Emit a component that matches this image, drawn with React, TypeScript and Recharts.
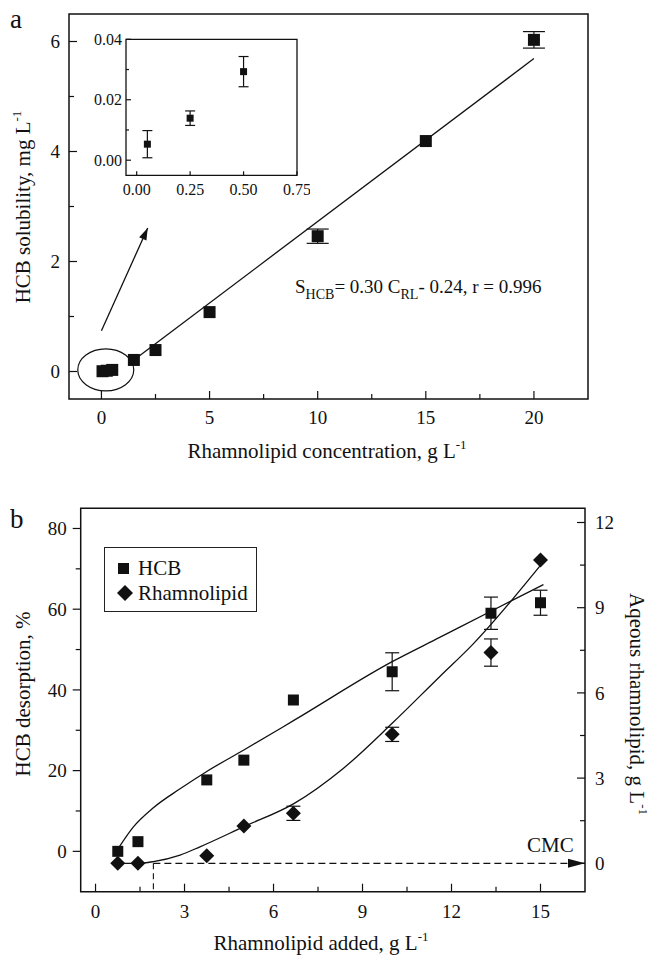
import React from 'react';
import {
  ComposedChart,
  Scatter,
  Line,
  XAxis,
  YAxis,
  ErrorBar,
  ReferenceArea,
  ReferenceDot,
  Legend,
} from 'recharts';

const FONT = '"Liberation Serif", "Times New Roman", serif';
const INK = '#111';

// panel a: HCB solubility vs rhamnolipid concentration
const concX = [0.05, 0.25, 0.5, 1.5, 2.5, 5, 10, 15, 20];
const solubility = [0.005, 0.014, 0.029, 0.21, 0.39, 1.08, 2.46, 4.19, 6.03];
const solubilityErr = [0, 0, 0, 0, 0, 0, 0.13, 0, 0.15];
const fitX = [1.5, 20];
const fitY = [0.21, 5.69];
const zoomArrowX = [0, 2.14];
const zoomArrowY = [0.74, 2.61];

// inset (low concentrations)
const insetX = [0.05, 0.25, 0.5];
const insetY = [0.0053, 0.0139, 0.0293];
const insetErr = [0.0045, 0.0024, 0.005];

// panel b: desorption vs rhamnolipid added
const addedX = [0.75, 1.43, 3.75, 5, 6.67, 10, 13.33, 15];
const hcbDesorption = [0, 2.4, 17.7, 22.6, 37.5, 44.5, 59.0, 61.6];
const hcbErr = [0, 0, 0, 0, 0, 4.7, 4.0, 3.1];
const aqueousRL = [0, 0, 0.27, 1.31, 1.76, 4.54, 7.42, 10.68];
const aqueousErr = [0, 0, 0, 0, 0.25, 0.25, 0.48, 0];
const hcbFitX = [0.8, 1.27, 1.95, 2.85, 3.75, 5, 6.7, 10, 11.6, 13.33, 15.1];
const hcbFitY = [1.1, 6.0, 10.8, 15.5, 19.8, 25.1, 32.5, 47.0, 53.0, 59.5, 66.1];
const rlFitX = [0.75, 1.43, 1.95, 2.85, 3.52, 5, 6.7, 8.35, 10, 11.6, 12.7, 15.1];
const rlFitY = [0, 0, 0.06, 0.29, 0.58, 1.29, 2.11, 3.34, 4.93, 6.57, 7.69, 10.62];
const cmcX = [1.95, 16.5];
const cmcY = [0, 0];
const cmcDropX = [1.95, 1.95];
const cmcDropY = [0, -1];

// ticks
const aXTicks = [0, 2.5, 5, 7.5, 10, 12.5, 15, 17.5, 20];
const aXLabels = [0, 5, 10, 15, 20];
const aYTicks = [0, 1, 2, 3, 4, 5, 6];
const aYLabels = [0, 2, 4, 6];
const insetXTicks = [0, 0.25, 0.5, 0.75];
const insetYTicks = [0, 0.01, 0.02, 0.03, 0.04];
const insetYLabels = [0, 0.02, 0.04];
const bXTicks = [0, 1.5, 3, 4.5, 6, 7.5, 9, 10.5, 12, 13.5, 15];
const bXLabels = [0, 3, 6, 9, 12, 15];
const bLeftTicks = [0, 10, 20, 30, 40, 50, 60, 70, 80];
const bLeftLabels = [0, 20, 40, 60, 80];
const bRightTicks = [0, 1.5, 3, 4.5, 6, 7.5, 9, 10.5, 12];
const bRightLabels = [0, 3, 6, 9, 12];

const zip = (xs: number[], ys: number[], es?: number[]) =>
  xs.map((x, i) => ({ x, y: ys[i], err: es ? es[i] : 0 }));

const solData = zip(concX, solubility, solubilityErr);
const fitData = zip(fitX, fitY);
const arrowData = zip(zoomArrowX, zoomArrowY);
const insetData = zip(insetX, insetY, insetErr);
const hcbData = zip(addedX, hcbDesorption, hcbErr);
const rlData = zip(addedX, aqueousRL, aqueousErr);
const hcbFit = zip(hcbFitX, hcbFitY);
const rlFit = zip(rlFitX, rlFitY);
const cmcLine = zip(cmcX, cmcY);
const cmcDrop = zip(cmcDropX, cmcDropY);

type TickOpts = { labels: number[]; major: number; minor: number; gap: number; fs: number; digits?: number };

const fmt = (v: number, d?: number) => (d ? v.toFixed(d) : String(v));

// bottom axis, ticks pointing into the plot
const xTick = (o: TickOpts) => (p: any) => {
  const { x, y, payload } = p;
  const isMajor = o.labels.includes(payload.value);
  return (
    <g>
      <line x1={x} x2={x} y1={y} y2={y - (isMajor ? o.major : o.minor)} stroke={INK} strokeWidth={1.2} />
      {isMajor && (
        <text x={x} y={y + o.gap} textAnchor="middle" fontFamily={FONT} fontSize={o.fs} fill={INK}>
          {fmt(payload.value, o.digits)}
        </text>
      )}
    </g>
  );
};

// side axis; dir = +1 draws toward the right of the axis line
const yTick = (o: TickOpts, side: 'left' | 'right', dir: number) => (p: any) => {
  const { x, y, payload } = p;
  const isMajor = o.labels.includes(payload.value);
  const len = isMajor ? o.major : o.minor;
  return (
    <g>
      <line x1={x} x2={x + dir * len} y1={y} y2={y} stroke={INK} strokeWidth={1.2} />
      {isMajor && (
        <text
          x={side === 'left' ? x - o.gap : x + o.gap}
          y={y}
          dy="0.35em"
          textAnchor={side === 'left' ? 'end' : 'start'}
          fontFamily={FONT}
          fontSize={o.fs}
          fill={INK}
        >
          {fmt(payload.value, o.digits)}
        </text>
      )}
    </g>
  );
};

const square = (s: number) => (p: any) =>
  <rect x={p.cx - s / 2} y={p.cy - s / 2} width={s} height={s} fill={INK} />;

const diamond = (r: number) => (p: any) =>
  <polygon points={`${p.cx},${p.cy - r} ${p.cx + r},${p.cy} ${p.cx},${p.cy + r} ${p.cx - r},${p.cy}`} fill={INK} />;

const arrowHead = (len: number, half: number, fallback: number) => (p: any) => {
  const { cx, cy, index, points } = p;
  if (index !== 1) return null;
  const ang = points && points[0] ? (Math.atan2(cy - points[0].y, cx - points[0].x) * 180) / Math.PI : fallback;
  return (
    <polygon
      key="head"
      points={`0,0 ${-len},${-half} ${-len},${half}`}
      transform={`translate(${cx},${cy}) rotate(${ang})`}
      fill={INK}
    />
  );
};

const renderLegend = (props: any) => {
  const items = (props.payload || []).filter((it: any) => it.type !== 'none');
  return (
    <div
      style={{
        position: 'relative',
        width: 153,
        height: 65,
        border: '1px solid #222',
        boxSizing: 'border-box',
        background: '#fff',
        fontFamily: FONT,
        fontSize: 21,
        color: INK,
      }}
    >
      {items.map((it: any, i: number) => (
        <div key={i} style={{ position: 'absolute', left: 8, top: 8 + i * 25, height: 24, display: 'flex', alignItems: 'center' }}>
          <svg width={24} height={20}>
            {it.type === 'diamond' ? (
              <polygon points="12,2 20,10 12,18 4,10" fill={INK} />
            ) : (
              <rect x={5} y={5} width={11} height={11} fill={INK} />
            )}
          </svg>
          <span style={{ marginLeft: 1, lineHeight: '24px' }}>{it.value}</span>
        </div>
      ))}
    </div>
  );
};

function PanelA() {
  return (
    <div style={{ position: 'absolute', left: 0, top: 0 }}>
      <ComposedChart width={651} height={470} margin={{ top: 14, right: 63, left: 0, bottom: 0 }}>
        <XAxis
          dataKey="x"
          type="number"
          domain={[-1.5, 22.5]}
          allowDataOverflow
          ticks={aXTicks}
          interval={0}
          height={71}
          axisLine={false}
          tickLine={false}
          tickSize={0}
          tickMargin={0}
          tick={xTick({ labels: aXLabels, major: 8, minor: 5, gap: 25, fs: 19 })}
        />
        <YAxis
          dataKey="y"
          type="number"
          domain={[-0.5, 6.5]}
          allowDataOverflow
          ticks={aYTicks}
          interval={0}
          width={69}
          axisLine={false}
          tickLine={false}
          tickSize={0}
          tickMargin={0}
          tick={yTick({ labels: aYLabels, major: 8, minor: 5, gap: 9, fs: 19 }, 'left', 1)}
        />
        <ReferenceArea x1={-1.5} x2={22.5} y1={-0.5} y2={6.5} fill="none" stroke={INK} strokeWidth={1.5} ifOverflow="visible" />
        <Line data={fitData} dataKey="y" type="linear" stroke={INK} strokeWidth={1.3} dot={false} legendType="none" isAnimationActive={false} />
        <Line
          data={arrowData}
          dataKey="y"
          type="linear"
          stroke={INK}
          strokeWidth={1.3}
          dot={arrowHead(12, 4, -65.5)}
          activeDot={false}
          legendType="none"
          isAnimationActive={false}
        />
        <ReferenceDot
          x={0.2}
          y={0.03}
          ifOverflow="visible"
          shape={(p: any) => <ellipse cx={p.cx} cy={p.cy} rx={28} ry={21} fill="none" stroke={INK} strokeWidth={1.2} />}
        />
        <Scatter data={solData} dataKey="y" shape={square(12)} legendType="none" isAnimationActive={false}>
          <ErrorBar dataKey="err" direction="y" width={11} stroke={INK} strokeWidth={1.2} />
        </Scatter>
      </ComposedChart>
    </div>
  );
}

function Inset() {
  return (
    <div style={{ position: 'absolute', left: 60, top: 30 }}>
      <ComposedChart width={250} height={180} margin={{ top: 9.3, right: 13, left: 0, bottom: 0 }}>
        <XAxis
          dataKey="x"
          type="number"
          domain={[-0.05, 0.75]}
          allowDataOverflow
          ticks={insetXTicks}
          interval={0}
          height={34.7}
          axisLine={false}
          tickLine={false}
          tickSize={0}
          tickMargin={0}
          tick={xTick({ labels: insetXTicks, major: 4, minor: 2, gap: 20, fs: 16, digits: 2 })}
        />
        <YAxis
          dataKey="y"
          type="number"
          domain={[-0.005, 0.04]}
          allowDataOverflow
          ticks={insetYTicks}
          interval={0}
          width={66}
          axisLine={false}
          tickLine={false}
          tickSize={0}
          tickMargin={0}
          tick={yTick({ labels: insetYLabels, major: 5, minor: 3, gap: 4, fs: 16, digits: 2 }, 'left', 1)}
        />
        <ReferenceArea x1={-0.05} x2={0.75} y1={-0.005} y2={0.04} fill="none" stroke={INK} strokeWidth={1.3} ifOverflow="visible" />
        <Scatter data={insetData} dataKey="y" shape={square(7)} legendType="none" isAnimationActive={false}>
          <ErrorBar dataKey="err" direction="y" width={5} stroke={INK} strokeWidth={1.2} />
        </Scatter>
      </ComposedChart>
    </div>
  );
}

function PanelB() {
  return (
    <div style={{ position: 'absolute', left: 0, top: 470 }}>
      <ComposedChart width={651} height={485} margin={{ top: 38.3, right: 0, left: 0, bottom: 0 }}>
        <XAxis
          dataKey="x"
          type="number"
          domain={[-0.5, 16.5]}
          allowDataOverflow
          ticks={bXTicks}
          interval={0}
          height={63.3}
          axisLine={false}
          tickLine={false}
          tickSize={0}
          tickMargin={0}
          tick={xTick({ labels: bXLabels, major: 8, minor: 5, gap: 26, fs: 19 })}
        />
        <YAxis
          yAxisId="left"
          dataKey="y"
          type="number"
          domain={[-10, 85]}
          allowDataOverflow
          ticks={bLeftTicks}
          interval={0}
          width={80.7}
          axisLine={false}
          tickLine={false}
          tickSize={0}
          tickMargin={0}
          tick={yTick({ labels: bLeftLabels, major: 8, minor: 5, gap: 14, fs: 19 }, 'left', -1)}
        />
        <YAxis
          yAxisId="right"
          orientation="right"
          dataKey="y"
          type="number"
          domain={[-1, 12.5]}
          allowDataOverflow
          ticks={bRightTicks}
          interval={0}
          width={66}
          axisLine={false}
          tickLine={false}
          tickSize={0}
          tickMargin={0}
          tick={yTick({ labels: bRightLabels, major: 8, minor: 5, gap: 10, fs: 19 }, 'right', -1)}
        />
        <ReferenceArea yAxisId="left" x1={-0.5} x2={16.5} y1={-10} y2={85} fill="none" stroke={INK} strokeWidth={1.5} ifOverflow="visible" />
        <Line yAxisId="right" data={cmcLine} dataKey="y" type="linear" stroke={INK} strokeWidth={1.3} strokeDasharray="7 4"
          dot={arrowHead(17, 4.5, 0)} activeDot={false} legendType="none" isAnimationActive={false} />
        <Line yAxisId="right" data={cmcDrop} dataKey="y" type="linear" stroke={INK} strokeWidth={1.1} strokeDasharray="6 4"
          dot={false} legendType="none" isAnimationActive={false} />
        <Line yAxisId="left" data={hcbFit} dataKey="y" type="monotone" stroke={INK} strokeWidth={1.3} dot={false} legendType="none" isAnimationActive={false} />
        <Line yAxisId="right" data={rlFit} dataKey="y" type="monotone" stroke={INK} strokeWidth={1.3} dot={false} legendType="none" isAnimationActive={false} />
        <Scatter yAxisId="left" name="HCB" data={hcbData} dataKey="y" shape={square(11)} legendType="square" isAnimationActive={false}>
          <ErrorBar dataKey="err" direction="y" width={7} stroke={INK} strokeWidth={1.2} />
        </Scatter>
        <Scatter yAxisId="right" name="Rhamnolipid" data={rlData} dataKey="y" shape={diamond(7.5)} legendType="diamond" isAnimationActive={false}>
          <ErrorBar dataKey="err" direction="y" width={7} stroke={INK} strokeWidth={1.2} />
        </Scatter>
        <Legend
          layout="vertical"
          align="center"
          verticalAlign="middle"
          content={renderLegend}
          wrapperStyle={{ left: 104, top: 77, width: 153, height: 65 }}
        />
      </ComposedChart>
    </div>
  );
}

function Annotations() {
  const t = { fontFamily: FONT, fill: INK };
  return (
    <svg width={651} height={955} style={{ position: 'absolute', left: 0, top: 0, pointerEvents: 'none' }}>
      <text x={10} y={28} fontSize={27} {...t}>a</text>
      <text x={10} y={528} fontSize={27} {...t}>b</text>

      <text x={327} y={458} fontSize={21} textAnchor="middle" {...t}>
        Rhamnolipid concentration, g L<tspan dy={-9} fontSize={13}>-1</tspan>
      </text>
      <text transform="translate(30,207) rotate(-90)" fontSize={21} textAnchor="middle" {...t}>
        HCB solubility, mg L<tspan dy={-9} fontSize={13}>-1</tspan>
      </text>
      <text x={295} y={293} fontSize={19} {...t}>
        S<tspan dy={6} fontSize={14}>HCB</tspan>
        <tspan dy={-6}>= 0.30 C</tspan>
        <tspan dy={6} fontSize={14}>RL</tspan>
        <tspan dy={-6}>- 0.24, r = 0.996</tspan>
      </text>

      <text x={321} y={950} fontSize={21} textAnchor="middle" {...t}>
        Rhamnolipid added, g L<tspan dy={-9} fontSize={13}>-1</tspan>
      </text>
      <text transform="translate(30,694) rotate(-90)" fontSize={21} textAnchor="middle" {...t}>
        HCB desorption, %
      </text>
      <text transform="translate(630,704) rotate(90)" fontSize={21} textAnchor="middle" {...t}>
        Aqeous rhamnolipid, g L<tspan dy={-9} fontSize={13}>-1</tspan>
      </text>
      <text x={527} y={852} fontSize={21} {...t}>CMC</text>
    </svg>
  );
}

export default function App() {
  return (
    <div style={{ position: 'absolute', left: 0, top: 0, width: 651, height: 955, background: '#fff' }}>
      <PanelA />
      <Inset />
      <PanelB />
      <Annotations />
    </div>
  );
}
